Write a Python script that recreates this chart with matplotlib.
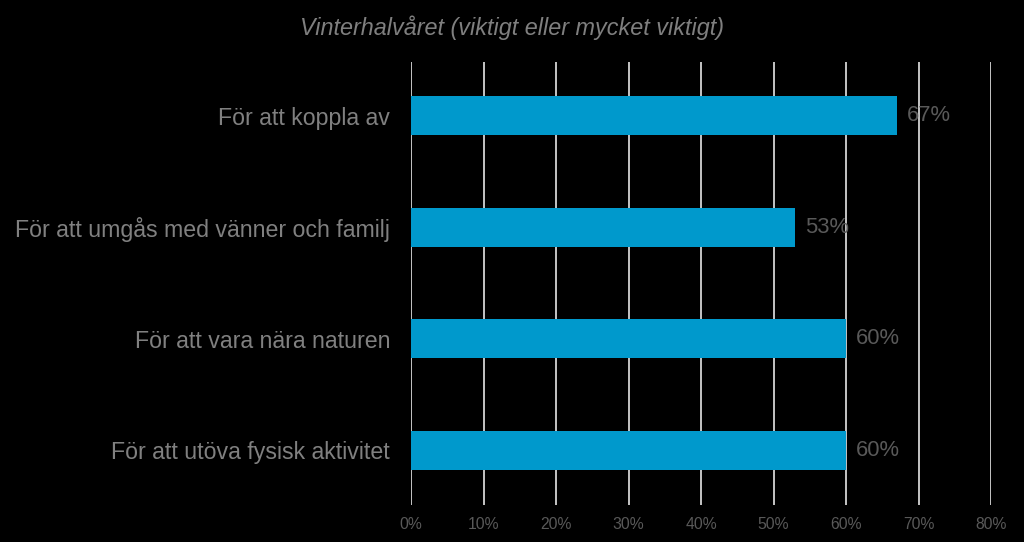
import matplotlib.pyplot as plt

# data
categories = ['För att koppla av', 'För att umgås med vänner och familj',
              'För att vara nära naturen', 'För att utöva fysisk aktivitet']
values = [67, 53, 60, 60]
ticks = [0, 10, 20, 30, 40, 50, 60, 70, 80]
tick_labels = [f'{t}%' for t in ticks]

plt.rcParams['font.family'] = ['Liberation Sans', 'DejaVu Sans']

fig = plt.figure(figsize=(10.24, 5.42), dpi=100, facecolor='black')
ax = fig.add_axes([0.4014, 0.0683, 0.5664, 0.8173], facecolor='black')

y = range(len(categories))
ax.barh(y, values, height=0.35, color='#0099CC', zorder=3)
for i, v in zip(y, values):
    ax.text(v + 1.4, i, f'{v}%', va='center', ha='left', color='#595959', fontsize=15.8, zorder=4)

ax.set_xlim(0, 80)
ax.set_ylim(3.49, -0.48)
ax.set_xticks(ticks)
ax.set_xticklabels(tick_labels, color='#595959', fontsize=11.3)
ax.set_yticks(list(y))
ax.set_yticklabels(categories, color='#808080', fontsize=16.7)
ax.tick_params(axis='both', length=0)
ax.tick_params(axis='y', pad=15)
ax.tick_params(axis='x', pad=8.5)
ax.grid(axis='x', color='#e6e6e6', linewidth=1.2, zorder=1)
for s in ax.spines.values():
    s.set_visible(False)

fig.text(0.5, 0.949, 'Vinterhalvåret (viktigt eller mycket viktigt)', ha='center', va='center',
         color='#7f7f7f', fontsize=16.8, style='italic')

fig.savefig('out.png', dpi=100, facecolor='black')
